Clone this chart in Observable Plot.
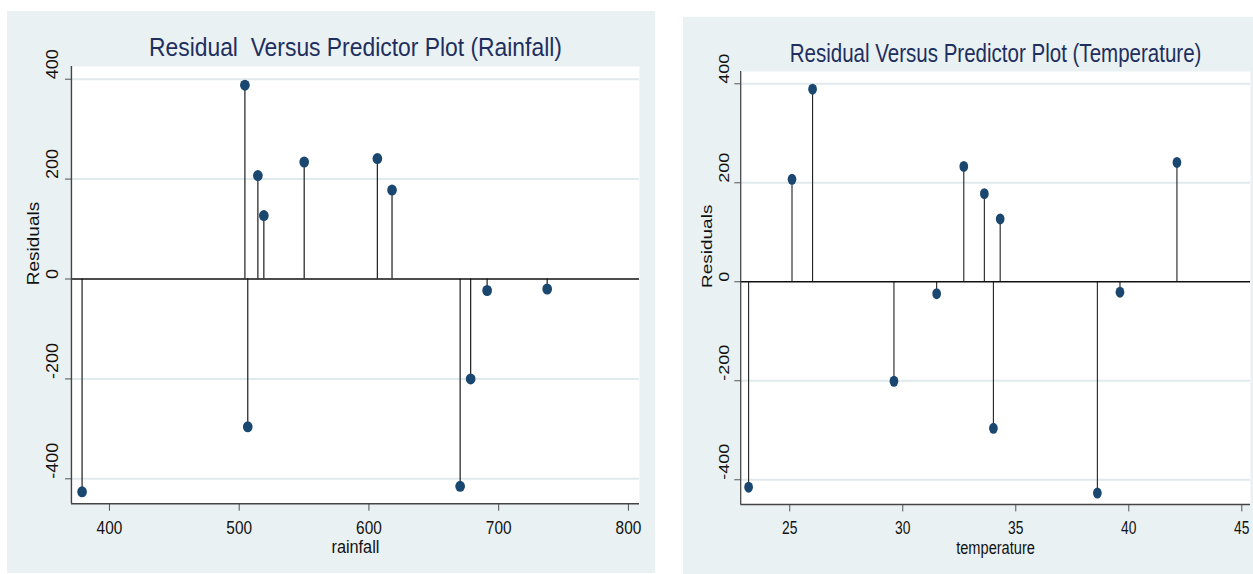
<!DOCTYPE html>
<html><head><meta charset="utf-8">
<script src="https://cdn.jsdelivr.net/npm/d3@7"></script>
<script src="https://cdn.jsdelivr.net/npm/@observablehq/plot@0.6"></script>
<style>
html,body{margin:0;padding:0;background:#fff;}
body{position:relative;width:1253px;height:574px;overflow:hidden;font-family:"Liberation Sans",Arial,sans-serif;}
.panel{position:absolute;background:#eaf1f3;}
.panel svg{display:block;}
</style></head><body>
<div id="left" class="panel" style="left:7px;top:11px;width:648px;height:562px"></div>
<div id="right" class="panel" style="left:683px;top:17px;width:570px;height:557px"></div>
<script>
// ---- data ----
const rainfall      = [378.9, 504.4, 506.6, 514.4, 519.0, 550.1, 606.5, 617.8, 670.3, 678.4, 691.1, 737.4];
const residualsRain = [-426, 388, -296, 207, 127, 234, 241, 178, -415, -200, -23, -20];
const temperature   = [23.18, 25.10, 26.01, 29.61, 31.50, 32.70, 33.61, 34.01, 34.31, 38.61, 39.61, 42.13];
const residualsTemp = [-415, 207, 389, -201, -24, 233, 178, -296, 127, -427, -21, 241];
const rainTicks = [400, 500, 600, 700, 800];
const tempTicks = [25, 30, 35, 40, 45];
const residualTicks = [-400, -200, 0, 200, 400];
const rainDomain = [370.7, 808.5];
const tempDomain = [22.83, 45.38];
const residDomainRain = [-450, 425.4];
const residDomainTemp = [-450, 424.8];
const titleRain = "Residual\u00a0 Versus Predictor Plot (Rainfall)";
const titleTemp = "Residual Versus Predictor Plot (Temperature)";

const FONT = '"Liberation Sans", Arial, sans-serif';

function drawPanel(cfg) {
  const {node, xs, ys, xDomain, yDomain, xTicks, yTicks, title, xLabel, w, h, s, m, lay} = cfg;
  const W = w / s;
  const data = xs.map((v, i) => ({x: v, y: ys[i]}));
  const chart = Plot.plot({
    width: W, height: h,
    marginLeft: m.left / s, marginRight: m.right / s, marginTop: m.top, marginBottom: m.bottom,
    x: {domain: xDomain, axis: null},
    y: {domain: yDomain, axis: null},
    style: {background: "transparent", fontFamily: FONT, overflow: "visible", color: "#111"},
    marks: [
      Plot.frame({fill: "white", stroke: "none"}),
      Plot.ruleY(yTicks.filter(t => t !== 0), {y: d => d, stroke: "#e0eaed", strokeWidth: 2}),
      Plot.ruleX(data, {x: "x", y1: 0, y2: "y", stroke: "#222", strokeWidth: 1.4}),
      Plot.ruleY([0], {y: d => d, stroke: "#111", strokeWidth: 1.6}),
      Plot.dot(data, {x: "x", y: "y", r: 5.5, fill: "#1a476f", stroke: "none"}),
      Plot.ruleX([xDomain[0]], {x: d => d, stroke: "#444", strokeWidth: 1.6}),
      Plot.ruleY([yDomain[0]], {y: d => d, stroke: "#444", strokeWidth: 1.4}),
      Plot.axisY({ticks: yTicks, tickSize: lay.yTickSize, tickFormat: () => "", label: null, stroke: "#444"}),
      Plot.axisX({ticks: xTicks, tickSize: 7.4, tickFormat: () => "", label: null, stroke: "#444"}),
      Plot.text(yTicks, {y: d => d, frameAnchor: "left", dx: -lay.yTickDx, rotate: -90, text: d => String(d), fontSize: 18, fill: "#111"}),
      Plot.text(xTicks, {x: d => d, frameAnchor: "bottom", dy: lay.xTickDy, lineAnchor: "top", text: d => String(d), fontSize: 17.5, fill: "#111"}),
      Plot.text([xLabel], {frameAnchor: "bottom", dy: lay.xLabDy, lineAnchor: "middle", text: d => d, fontSize: 18.5, fill: "#111"}),
      Plot.text(["Residuals"], {frameAnchor: "left", dx: -lay.yLabDx, rotate: -90, text: d => d, fontSize: 19, fill: "#111"}),
      Plot.text([title], {frameAnchor: "top", dy: lay.titleDy, lineAnchor: "bottom", text: d => d, fontSize: 26, fill: "#1e2f5f"})
    ]
  });
  chart.setAttribute("width", w);
  chart.setAttribute("height", h);
  chart.setAttribute("viewBox", `0 0 ${W} ${h}`);
  chart.setAttribute("preserveAspectRatio", "none");
  chart.style.width = w + "px";
  chart.style.height = h + "px";
  chart.style.maxWidth = "none";
  node.appendChild(chart);
}

drawPanel({
  node: document.getElementById("left"),
  xs: rainfall, ys: residualsRain,
  xDomain: rainDomain, yDomain: residDomainRain,
  xTicks: rainTicks, yTicks: residualTicks,
  title: titleRain, xLabel: "rainfall",
  w: 648, h: 562, s: 0.88,
  m: {left: 64, right: 16, top: 55, bottom: 69.7},
  lay: {yTickSize: 6.8, yTickDx: 20.5, xTickDy: 17.7, xLabDy: 43.5, yLabDx: 42.4, titleDy: -10.5}
});

drawPanel({
  node: document.getElementById("right"),
  xs: temperature, ys: residualsTemp,
  xDomain: tempDomain, yDomain: residDomainTemp,
  xTicks: tempTicks, yTicks: residualTicks,
  title: titleTemp, xLabel: "temperature",
  w: 570, h: 557, s: 0.79,
  m: {left: 57.3, right: 3, top: 54, bottom: 70},
  lay: {yTickSize: 7.6, yTickDx: 20, xTickDy: 17, xLabDy: 44, yLabDx: 42.2, titleDy: -10}
});
</script>
</body></html>
